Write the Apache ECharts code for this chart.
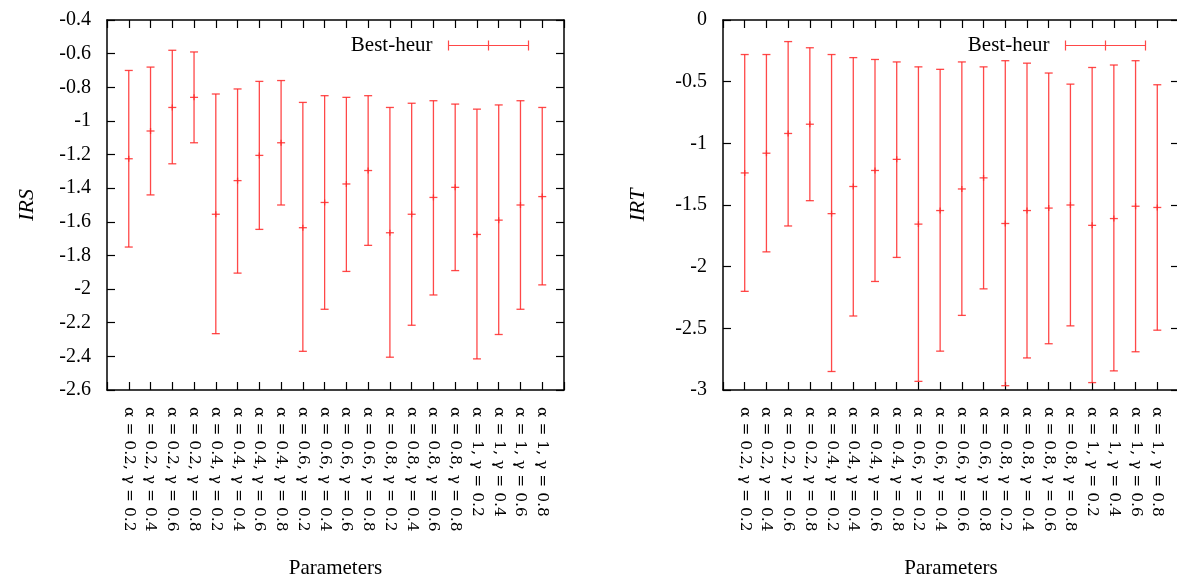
<!DOCTYPE html>
<html>
<head>
<meta charset="utf-8">
<script src="https://cdn.jsdelivr.net/npm/echarts@6/dist/echarts.min.js"></script>
<style>
html,body{margin:0;padding:0;background:#fff;}
#chart{width:1177px;height:578px;}
</style>
</head>
<body>
<div id="chart"></div>
<script>
const categories = [
  'α = 0.2, γ = 0.2','α = 0.2, γ = 0.4','α = 0.2, γ = 0.6','α = 0.2, γ = 0.8',
  'α = 0.4, γ = 0.2','α = 0.4, γ = 0.4','α = 0.4, γ = 0.6','α = 0.4, γ = 0.8',
  'α = 0.6, γ = 0.2','α = 0.6, γ = 0.4','α = 0.6, γ = 0.6','α = 0.6, γ = 0.8',
  'α = 0.8, γ = 0.2','α = 0.8, γ = 0.4','α = 0.8, γ = 0.6','α = 0.8, γ = 0.8',
  'α = 1, γ = 0.2','α = 1, γ = 0.4','α = 1, γ = 0.6','α = 1, γ = 0.8'
];
const irsHigh = [-0.70,-0.68,-0.58,-0.59,-0.84,-0.81,-0.765,-0.76,-0.89,-0.85,-0.86,-0.85,-0.92,-0.895,-0.88,-0.90,-0.93,-0.905,-0.88,-0.92];
const irsMean = [-1.225,-1.06,-0.92,-0.86,-1.555,-1.355,-1.205,-1.13,-1.635,-1.485,-1.375,-1.295,-1.665,-1.555,-1.455,-1.395,-1.675,-1.59,-1.50,-1.45];
const irsLow  = [-1.75,-1.44,-1.255,-1.13,-2.265,-1.905,-1.645,-1.50,-2.37,-2.12,-1.895,-1.74,-2.405,-2.215,-2.035,-1.89,-2.415,-2.27,-2.12,-1.975];
const irtHigh = [-0.28,-0.28,-0.175,-0.225,-0.28,-0.305,-0.32,-0.34,-0.38,-0.40,-0.34,-0.38,-0.33,-0.35,-0.43,-0.52,-0.385,-0.365,-0.33,-0.525];
const irtMean = [-1.24,-1.08,-0.92,-0.845,-1.57,-1.35,-1.22,-1.13,-1.655,-1.545,-1.37,-1.28,-1.65,-1.545,-1.525,-1.50,-1.665,-1.61,-1.51,-1.52];
const irtLow  = [-2.20,-1.88,-1.67,-1.465,-2.85,-2.40,-2.12,-1.925,-2.93,-2.685,-2.395,-2.18,-2.965,-2.74,-2.625,-2.48,-2.94,-2.845,-2.69,-2.515];
const seriesName = 'Best-heur';
const xName = 'Parameters';
const yNames = ['IRS', 'IRT'];

const RED = 'rgba(255,40,40,0.85)';
const SERIF = '"Liberation Serif", "Times New Roman", serif';

function renderErr(params, api) {
  const x = api.value(0);
  const lo = api.coord([x, api.value(1)]);
  const mid = api.coord([x, api.value(2)]);
  const hi = api.coord([x, api.value(3)]);
  const w = 4;
  const st = { stroke: RED, lineWidth: 1.3, fill: null };
  const seg = (x1, y1, x2, y2) => ({ type: 'line', shape: { x1, y1, x2, y2 }, style: st });
  return {
    type: 'group',
    children: [
      seg(hi[0], hi[1], lo[0], lo[1]),
      seg(hi[0] - w, hi[1], hi[0] + w, hi[1]),
      seg(lo[0] - w, lo[1], lo[0] + w, lo[1]),
      seg(mid[0] - w, mid[1], mid[0] + w, mid[1]),
      seg(mid[0], mid[1] - 3, mid[0], mid[1] + 3)
    ]
  };
}

function toData(lo, mean, hi) {
  return mean.map((m, i) => [i + 1, lo[i], m, hi[i]]);
}

const frame = { show: true, onZero: false, lineStyle: { color: '#000', width: 1.5 } };
const tick = { show: true, inside: true, length: 8, lineStyle: { color: '#000', width: 1.2 } };

function xAxes(gi) {
  return [
    {
      type: 'value', gridIndex: gi, position: 'bottom', min: 0, max: 21, interval: 1,
      axisLine: frame, axisTick: tick, splitLine: { show: false },
      axisLabel: {
        rotate: -90, margin: 17, fontFamily: '"DejaVu Serif", serif', fontSize: 15.5, color: '#000',
        formatter: v => (v >= 1 && v <= categories.length) ? categories[v - 1] : ''
      },
      name: xName, nameLocation: 'middle', nameGap: 168,
      nameTextStyle: { fontFamily: SERIF, fontSize: 21, color: '#000' }
    },
    {
      type: 'value', gridIndex: gi, position: 'top', min: 0, max: 21, interval: 1,
      axisLine: frame, axisTick: tick, splitLine: { show: false }, axisLabel: { show: false }
    }
  ];
}

function yAxes(gi, min, max, interval, name, gap) {
  return [
    {
      type: 'value', gridIndex: gi, position: 'left', min, max, interval,
      axisLine: frame, axisTick: tick, splitLine: { show: false },
      axisLabel: { margin: 16, fontFamily: SERIF, fontSize: 20, color: '#000' },
      name, nameLocation: 'middle', nameGap: gap, nameRotate: 90,
      nameTextStyle: { fontFamily: SERIF, fontStyle: 'italic', fontSize: 22, color: '#000' }
    },
    {
      type: 'value', gridIndex: gi, position: 'right', min, max, interval,
      axisLine: frame, axisTick: tick, splitLine: { show: false }, axisLabel: { show: false }
    }
  ];
}

function legendAt(right) {
  return {
    data: [seriesName], right, top: 30, align: 'right', orient: 'horizontal',
    itemWidth: 80, itemHeight: 10,
    icon: 'path://M0,0 L0,10 M0,5 L80,5 M40,0 L40,10 M80,0 L80,10',
    itemStyle: { color: 'none', borderColor: RED, borderWidth: 1.2 },
    textStyle: { fontFamily: SERIF, fontSize: 21, color: '#000', padding: [0, 11, 0, 0] },
    selectedMode: false
  };
}

const chart = echarts.init(document.getElementById('chart'), null, { renderer: 'canvas' });
chart.setOption({
  animation: false,
  backgroundColor: '#fff',
  grid: [
    { left: 107, top: 20, width: 457, height: 370, containLabel: false, outerBoundsMode: 'none' },
    { left: 723, top: 20, width: 456, height: 370, containLabel: false, outerBoundsMode: 'none' }
  ],
  legend: [legendAt(641), legendAt(24)],
  xAxis: [...xAxes(0), ...xAxes(1)],
  yAxis: [...yAxes(0, -2.6, -0.4, 0.2, yNames[0], 69), ...yAxes(1, -3, 0, 0.5, yNames[1], 74)],
  series: [
    {
      name: seriesName, type: 'custom', xAxisIndex: 0, yAxisIndex: 0,
      itemStyle: { color: RED }, renderItem: renderErr,
      encode: { x: 0, y: [1, 2, 3] }, data: toData(irsLow, irsMean, irsHigh)
    },
    {
      name: seriesName, type: 'custom', xAxisIndex: 2, yAxisIndex: 2,
      itemStyle: { color: RED }, renderItem: renderErr,
      encode: { x: 0, y: [1, 2, 3] }, data: toData(irtLow, irtMean, irtHigh)
    }
  ]
});
</script>
</body>
</html>
